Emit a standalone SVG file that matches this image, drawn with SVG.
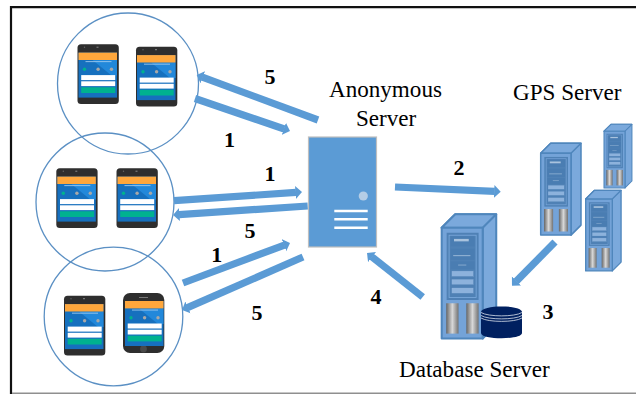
<svg xmlns="http://www.w3.org/2000/svg" width="636" height="394" viewBox="0 0 636 394">
<style>
.ring{fill:none;stroke:#5B90C4;stroke-width:1.3}
.conn{fill:none;stroke:#5B9BD5;stroke-width:7.2;marker-end:url(#head)}
.lbl{font-family:"Liberation Serif","Times New Roman",serif;font-size:23.1px;fill:#000}
.num{font-family:"Liberation Serif","Times New Roman",serif;font-size:22px;font-weight:bold;fill:#000;text-anchor:middle}
.body{fill:#2E2E2E}
.rk{stroke:#4F86BC;stroke-width:5;stroke-linejoin:round}
</style>
<defs>
<marker id="head" markerUnits="userSpaceOnUse" markerWidth="7" markerHeight="14" viewBox="0 0 7 14" refX="0.5" refY="7" orient="auto"><path d="M0,0.5 L6.5,7 L0,13.5 Z" fill="#5B9BD5"/></marker>
<linearGradient id="steel" x1="0" x2="1" y1="0" y2="0"><stop offset="0" stop-color="#666"/><stop offset=".5" stop-color="#D8D8D8"/><stop offset="1" stop-color="#727272"/></linearGradient>
<g id="screen">
<rect width="38.5" height="45" fill="#1670BE"/>
<polygon points="14,7.4 38.5,7.4 38.5,23 33,23" fill="#2288DA"/>
<rect width="38.5" height="7.4" fill="#FFA73C"/>
<rect x="7" y="8.6" width="26" height="0.9" fill="#9CC8EE"/>
<circle cx="6" cy="16.7" r="1.7" fill="#00B28F"/><circle cx="19.6" cy="16.7" r="1.7" fill="#A8A8A8"/><circle cx="33" cy="16.7" r="1.7" fill="#A8A8A8"/>
<rect x="2.7" y="22.5" width="34" height="5" fill="#fff"/>
<rect x="2.7" y="28.7" width="34" height="4.8" fill="#fff"/>
<rect x="2.7" y="34.7" width="34" height="5.7" fill="#00B28F"/>
</g>
<g id="android">
<rect width="41.3" height="59.7" rx="3.5" class="body"/>
<circle cx="7" cy="3" r=".7" fill="#666"/><rect x="19" y="2.4" width="2" height="1" fill="#888"/>
<use href="#screen" x="1" y="8.3"/>
</g>
<g id="rack">
<polygon points="0,33 33,0 133,0 133,270 100,303 100,33" fill="#7BA9DC" class="rk"/>
<polygon points="0,33 33,0 133,0 100,33" fill="#7BA9DC" class="rk"/>
<rect x="0" y="33" width="100" height="270" fill="#74A3D8" class="rk"/>
<rect x="12" y="45" width="78" height="164" fill="#4F81B5"/>
<rect x="18" y="51" width="66" height="152" fill="none" stroke="#7BA9DC" stroke-width="2"/>
<rect x="22" y="54" width="58" height="24" fill="#4A7DB2"/>
<rect x="22" y="84" width="58" height="27" fill="#4A7DB2"/>
<rect x="22" y="115" width="58" height="19" fill="#4A7DB2"/>
<rect x="30" y="60" width="36" height="6" fill="#A9C3DE"/>
<rect x="28" y="100" width="42" height="2" fill="#A9C3DE"/>
<rect x="40" y="123" width="20" height="1.5" fill="#A9C3DE"/>
<rect x="24" y="138" width="54" height="14" fill="#8DB2DC" stroke="#4A7DB2"/>
<rect x="24" y="158" width="54" height="14" fill="#8DB2DC" stroke="#4A7DB2"/>
<rect x="24" y="179" width="54" height="14" fill="#8DB2DC" stroke="#4A7DB2"/>
<rect x="11" y="217" width="30" height="74" fill="url(#steel)"/>
<rect x="60" y="217" width="30" height="74" fill="url(#steel)"/>
</g>
</defs>
<rect width="636" height="394" fill="#fff"/>
<g id="frame" fill="none">
<path d="M11,394 V7.2 H636" stroke="#111" stroke-width="2.2"/>
<path d="M12,393.2 H636" stroke="#8F8F8F" stroke-width="1.6"/>
</g>
<g id="group-a">
<circle class="ring" cx="128" cy="83.5" r="70.5"/>
<use href="#android" x="77.5" y="44.3"/>
<use href="#android" x="136" y="46.8"/>
</g>
<g id="group-b">
<circle class="ring" cx="105" cy="202" r="69"/>
<use href="#android" x="56.3" y="168.3"/>
<use href="#android" x="116.5" y="168.3"/>
</g>
<g id="group-c">
<circle class="ring" cx="113.5" cy="316.5" r="69.3"/>
<use href="#android" x="64" y="295.8"/>
<g id="iphone">
<rect x="123" y="293" width="41.3" height="60" rx="7" class="body"/>
<rect x="139" y="297" width="9" height="1" fill="#777"/>
<circle cx="143.5" cy="349" r="3.4" fill="#4A4A4A"/>
<use href="#screen" x="125" y="301"/>
</g>
</g>
<g id="anonymous-server">
<rect x="308.5" y="137" width="68" height="110" fill="#5B9BD5" stroke="#BFBFBF" stroke-width="1.2"/>
<circle cx="363.3" cy="196" r="4.6" fill="#B4CDE6"/>
<path d="M334.3,211 H367.7 M334.3,219.3 H367.7 M334.3,227.7 H367.7" stroke="#fff" stroke-width="2.6" fill="none"/>
<text class="lbl" x="329" y="97">Anonymous</text>
<text class="lbl" x="356" y="126">Server</text>
</g>
<g id="gps-server">
<use href="#rack" transform="translate(604,124.3) scale(0.21)"/>
<use href="#rack" transform="translate(585.7,190.3) scale(0.266)"/>
<use href="#rack" transform="translate(540.7,143.3) scale(0.303)"/>
<text class="lbl" x="513" y="100">GPS Server</text>
</g>
<g id="database-server">
<use href="#rack" transform="translate(441.7,214.3) scale(0.41)"/>
<path d="M481,312 C481,304.5 522,304.5 522,312 V333 C522,340 481,340 481,333 Z" fill="#002060"/>
<path d="M481,315.5 C488,320 515,320 522,315.5 M481,312.5 C488,317 515,317 522,312.5 M481,318 C488,322.5 515,322.5 522,318" fill="none" stroke="#DCE3EE" stroke-width=".8"/>
<text class="lbl" x="399" y="377">Database Server</text>
</g>
<g id="connectors">
<path class="conn" d="M318,120 L202.3,77.1"/>
<path class="conn" d="M195,98.5 L284.3,129"/>
<path class="conn" d="M174,200.7 L296,192.4"/>
<path class="conn" d="M307.7,206 L179,214.6"/>
<path class="conn" d="M183,283 L284.4,245.1"/>
<path class="conn" d="M303,257 L187.5,307.6"/>
<path class="conn" d="M395,187 L494.7,191.4"/>
<path class="conn" d="M422.7,297 L371.7,256.7"/>
<path class="conn" d="M555,242 L516.2,281.4"/>
</g>
<g id="labels">
<text class="num" x="270" y="84">5</text>
<text class="num" x="229.5" y="147">1</text>
<text class="num" x="270" y="181">1</text>
<text class="num" x="250" y="237.5">5</text>
<text class="num" x="216.7" y="262">1</text>
<text class="num" x="257" y="320">5</text>
<text class="num" x="459" y="175">2</text>
<text class="num" x="376" y="304">4</text>
<text class="num" x="548" y="319">3</text>
</g>
</svg>
